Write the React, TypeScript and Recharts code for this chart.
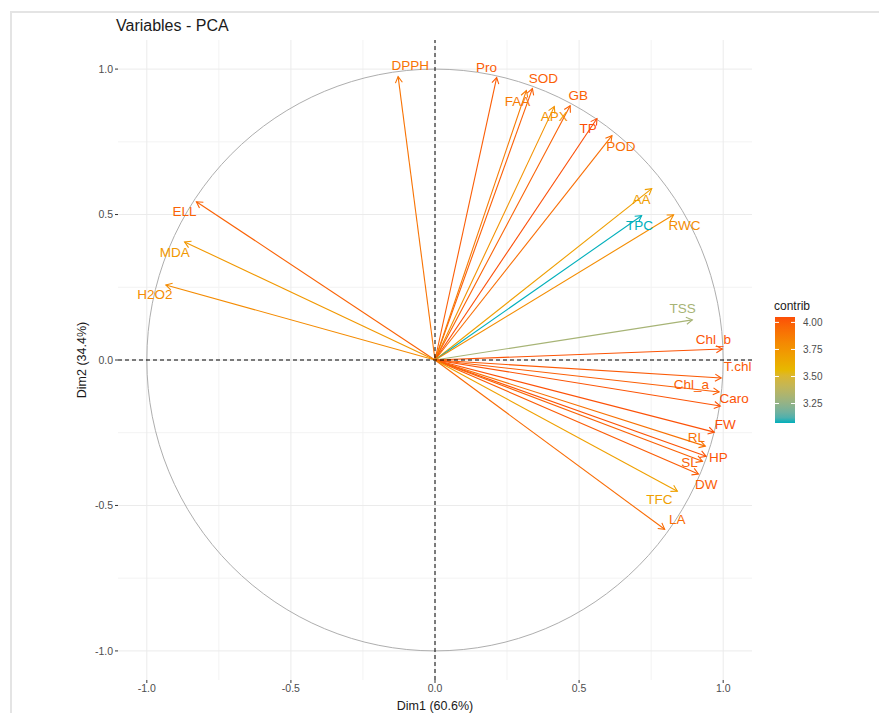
import { ComposedChart, XAxis, YAxis, CartesianGrid, ReferenceLine, ReferenceArea, Scatter } from 'recharts';

const variables = ['DPPH', 'Pro', 'SOD', 'FAA', 'APX', 'GB', 'TP', 'POD', 'AA', 'TPC', 'RWC', 'TSS', 'Chl_b', 'T.chl', 'Chl_a', 'Caro', 'FW', 'RL', 'HP', 'SL', 'DW', 'TFC', 'LA', 'ELL', 'MDA', 'H2O2'];
const dim1 = [-0.128, 0.214, 0.338, 0.317, 0.414, 0.469, 0.562, 0.614, 0.752, 0.717, 0.828, 0.893, 0.997, 0.993, 0.986, 0.99, 0.969, 0.938, 0.941, 0.928, 0.914, 0.841, 0.797, -0.828, -0.869, -0.934];
const dim2 = [0.974, 0.971, 0.933, 0.926, 0.871, 0.874, 0.83, 0.771, 0.589, 0.496, 0.499, 0.138, 0.038, -0.062, -0.11, -0.158, -0.248, -0.296, -0.331, -0.348, -0.392, -0.451, -0.582, 0.544, 0.406, 0.258];
const contrib = [3.91, 4.0, 3.99, 3.88, 3.77, 3.98, 4.05, 3.93, 3.7, 3.07, 3.79, 3.31, 4.03, 4.01, 3.99, 4.03, 4.04, 3.92, 4.03, 3.98, 4.0, 3.69, 3.94, 3.98, 3.73, 3.8];
// label positions (repelled text in the original)
const labelDim1 = [-0.086, 0.179, 0.376, 0.286, 0.414, 0.497, 0.531, 0.645, 0.717, 0.71, 0.866, 0.859, 0.966, 1.05, 0.89, 1.038, 1.007, 0.907, 0.983, 0.883, 0.941, 0.779, 0.841, -0.869, -0.903, -0.972];
const labelDim2 = [1.012, 1.005, 0.967, 0.888, 0.836, 0.909, 0.795, 0.733, 0.551, 0.461, 0.461, 0.176, 0.072, -0.024, -0.083, -0.134, -0.22, -0.265, -0.334, -0.351, -0.427, -0.478, -0.547, 0.509, 0.368, 0.224];

const majorTicks = [-1, -0.5, 0, 0.5, 1];
const minorTicks = [-0.75, -0.25, 0.25, 0.75];
const legendTicks = [3.25, 3.5, 3.75, 4.0];
const gradientCols = ['#00AFBB', '#E7B800', '#FC4E07'];

const cMin = Math.min(...contrib);
const cMax = Math.max(...contrib);

// colour ramp in Lab space, like ggplot's gradientn
const toLin = (c: number) => {
  c /= 255;
  return c <= 0.04045 ? c / 12.92 : Math.pow((c + 0.055) / 1.055, 2.4);
};
const fromLin = (c: number) => {
  const v = c <= 0.0031308 ? 12.92 * c : 1.055 * Math.pow(c, 1 / 2.4) - 0.055;
  return Math.round(Math.max(0, Math.min(1, v)) * 255);
};
const hexToLab = (hex: string) => {
  const r = toLin(parseInt(hex.slice(1, 3), 16));
  const g = toLin(parseInt(hex.slice(3, 5), 16));
  const b = toLin(parseInt(hex.slice(5, 7), 16));
  const X = (0.4124 * r + 0.3576 * g + 0.1805 * b) / 0.95047;
  const Y = 0.2126 * r + 0.7152 * g + 0.0722 * b;
  const Z = (0.0193 * r + 0.1192 * g + 0.9505 * b) / 1.08883;
  const f = (t: number) => (t > 0.008856 ? Math.cbrt(t) : 7.787 * t + 16 / 116);
  const fx = f(X), fy = f(Y), fz = f(Z);
  return [116 * fy - 16, 500 * (fx - fy), 200 * (fy - fz)];
};
const labToHex = ([L, a, bb]: number[]) => {
  const fy = (L + 16) / 116;
  const fx = fy + a / 500;
  const fz = fy - bb / 200;
  const inv = (t: number) => (t * t * t > 0.008856 ? t * t * t : (t - 16 / 116) / 7.787);
  const X = inv(fx) * 0.95047, Y = inv(fy), Z = inv(fz) * 1.08883;
  const R = 3.2406 * X - 1.5372 * Y - 0.4986 * Z;
  const G = -0.9689 * X + 1.8758 * Y + 0.0415 * Z;
  const B = 0.0557 * X - 0.204 * Y + 1.057 * Z;
  return '#' + [R, G, B].map((c) => fromLin(c).toString(16).padStart(2, '0')).join('');
};
const labCols = gradientCols.map(hexToLab);

const colorFor = (v: number) => {
  const t = Math.max(0, Math.min(1, (v - cMin) / (cMax - cMin)));
  const seg = t < 0.5 ? 0 : 1;
  const u = t < 0.5 ? t * 2 : (t - 0.5) * 2;
  const a = labCols[seg], b = labCols[seg + 1];
  return labToHex([0, 1, 2].map((k) => a[k] + (b[k] - a[k]) * u));
};

const arrows = variables.map((name, i) => ({ name, x: dim1[i], y: dim2[i], color: colorFor(contrib[i]) }));
const labels = variables.map((name, i) => ({ name, x: labelDim1[i], y: labelDim2[i], color: colorFor(contrib[i]) }));

const ArrowShape = (props: any) => {
  const { x1, y1, x2, y2, stroke } = props;
  const ang = Math.atan2(y2 - y1, x2 - x1);
  const len = 7;
  const spread = Math.PI / 6;
  const ax = x2 - len * Math.cos(ang - spread);
  const ay = y2 - len * Math.sin(ang - spread);
  const bx = x2 - len * Math.cos(ang + spread);
  const by = y2 - len * Math.sin(ang + spread);
  return (
    <g>
      <line x1={x1} y1={y1} x2={x2} y2={y2} stroke={stroke} strokeWidth={1.1} />
      <polyline points={`${ax},${ay} ${x2},${y2} ${bx},${by}`} fill="none" stroke={stroke} strokeWidth={1.1} />
    </g>
  );
};

const CircleShape = (props: any) => {
  const { x, y, width, height } = props;
  return (
    <ellipse cx={x + width / 2} cy={y + height / 2} rx={Math.abs(width) / 2} ry={Math.abs(height) / 2} fill="none" stroke="#AEAEAE" strokeWidth={1} />
  );
};

const LabelShape = (props: any) => {
  const { cx, cy, payload } = props;
  return (
    <text x={cx} y={cy} textAnchor="middle" dominantBaseline="central" fill={payload.color} fontSize={13.5}>
      {payload.name}
    </text>
  );
};

function ColorBar() {
  const barTop = 22;
  const barH = 106;
  const yOf = (v: number) => barTop + barH - ((v - cMin) / (cMax - cMin)) * barH;
  const stops = Array.from({ length: 21 }, (_, k) => k / 20);
  return (
    <svg width={90} height={140} style={{ position: 'absolute', left: 770, top: 295 }}>
      <defs>
        <linearGradient id="contribGrad" x1="0" y1="1" x2="0" y2="0">
          {stops.map((s) => (
            <stop key={s} offset={s} stopColor={colorFor(cMin + s * (cMax - cMin))} />
          ))}
        </linearGradient>
      </defs>
      <text x={4} y={15} fontSize={12} fill="#1a1a1a">contrib</text>
      <rect x={5} y={barTop} width={20} height={barH} fill="url(#contribGrad)" />
      {legendTicks.map((v) => (
        <g key={v}>
          <line x1={5} x2={9} y1={yOf(v)} y2={yOf(v)} stroke="#fff" strokeWidth={1} />
          <line x1={21} x2={25} y1={yOf(v)} y2={yOf(v)} stroke="#fff" strokeWidth={1} />
          <text x={33} y={yOf(v)} dominantBaseline="central" fontSize={10} fill="#4D4D4D">
            {v.toFixed(2)}
          </text>
        </g>
      ))}
    </svg>
  );
}

export default function App() {
  return (
    <div style={{ position: 'absolute', left: 0, top: 0, width: 879, height: 713, background: '#fff', fontFamily: '"Liberation Sans", Arial, sans-serif', overflow: 'hidden' }}>
      <div style={{ position: 'absolute', left: 10, top: 11, width: 869, height: 702, borderTop: '2px solid #E4E4E4', borderLeft: '2px solid #E4E4E4' }} />
      <div style={{ position: 'absolute', left: 116, top: 17, fontSize: 16, color: '#1a1a1a', lineHeight: '18px' }}>Variables - PCA</div>
      <ComposedChart width={879} height={713} margin={{ top: 40, right: 127, left: 78, bottom: 3 }} style={{ position: 'absolute', left: 0, top: 0 }}>
        <CartesianGrid stroke="#F3F3F3" verticalValues={minorTicks} horizontalValues={minorTicks} />
        <CartesianGrid stroke="#EBEBEB" verticalValues={majorTicks} horizontalValues={majorTicks} />
        <XAxis
          type="number"
          dataKey="x"
          domain={[-1.1, 1.1]}
          ticks={majorTicks}
          allowDataOverflow
          axisLine={false}
          tickLine={{ stroke: '#333' }}
          tickSize={3}
          tickMargin={2}
          height={30}
          tick={{ fill: '#4D4D4D', fontSize: 10.5 }}
          tickFormatter={(v: number) => v.toFixed(1)}
          label={{ value: 'Dim1 (60.6%)', position: 'insideBottom', offset: 0, fill: '#1a1a1a', fontSize: 12.5 }}
        />
        <YAxis
          type="number"
          dataKey="y"
          domain={[-1.1, 1.1]}
          ticks={majorTicks}
          allowDataOverflow
          axisLine={false}
          tickLine={{ stroke: '#333' }}
          tickSize={3}
          tickMargin={2}
          width={40}
          tick={{ fill: '#4D4D4D', fontSize: 10.5 }}
          tickFormatter={(v: number) => v.toFixed(1)}
          label={{ value: 'Dim2 (34.4%)', angle: -90, position: 'insideLeft', offset: 4, fill: '#1a1a1a', fontSize: 12.5, style: { textAnchor: 'middle' } }}
        />
        <ReferenceArea x1={-1} x2={1} y1={-1} y2={1} shape={CircleShape} />
        {arrows.map((a) => (
          <ReferenceLine
            key={a.name}
            segment={[{ x: 0, y: 0 }, { x: a.x, y: a.y }]}
            stroke={a.color}
            shape={ArrowShape}
          />
        ))}
        <ReferenceLine x={0} stroke="#000" strokeDasharray="4 3" strokeWidth={1} />
        <ReferenceLine y={0} stroke="#000" strokeDasharray="4 3" strokeWidth={1} />
        <Scatter data={labels} shape={LabelShape} isAnimationActive={false} />
      </ComposedChart>
      <ColorBar />
    </div>
  );
}
